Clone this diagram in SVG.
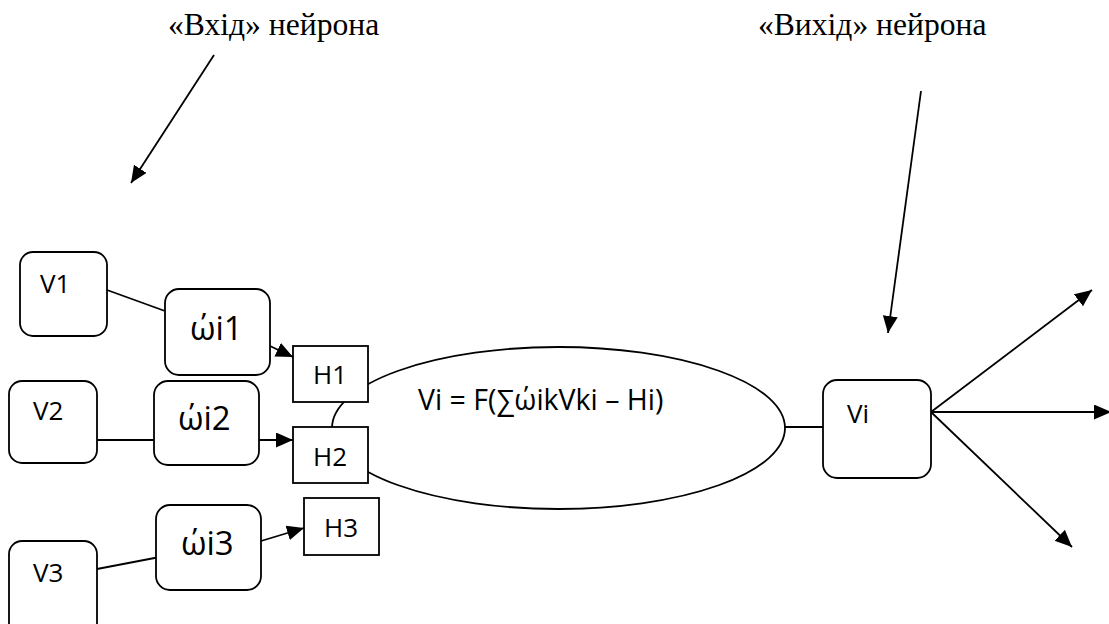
<svg xmlns="http://www.w3.org/2000/svg" width="1109" height="624" viewBox="0 0 1109 624">
<defs>
<marker id="ah" markerUnits="userSpaceOnUse" markerWidth="18" markerHeight="16" refX="17" refY="7.5" orient="auto">
<path d="M0,0 L17,7.5 L0,15 z" fill="#000"/>
</marker>
<style>
.box{fill:#fff;stroke:#000;stroke-width:1.8}
.ln{fill:none;stroke:#000;stroke-width:1.8}
.ar{fill:none;stroke:#000;stroke-width:1.8;marker-end:url(#ah)}
.s{font-family:"Open Sans","DejaVu Sans",sans-serif;fill:#000}
.t{font-family:"Liberation Serif","Times New Roman",serif;font-size:31.6px;fill:#000}
.v{font-size:26px}
.w{font-size:33px}
.f{font-size:28.5px}
</style>
</defs>
<rect width="1109" height="624" fill="#fff"/>

<g id="labels">
<text class="t" x="168" y="35">«Вхід» нейрона</text>
<text class="t" x="758" y="35">«Вихід» нейрона</text>
</g>

<g id="soma">
<ellipse class="box" cx="558.5" cy="428" rx="226.5" ry="81"/>
<text class="s f" x="418" y="410">Vi = F(∑ώikVki – Hi)</text>
</g>

<g id="connectors">
<line class="ar" x1="214" y1="55" x2="131" y2="183"/>
<line class="ar" x1="921" y1="91" x2="888" y2="333"/>
<line class="ln" x1="107" y1="290" x2="165" y2="311"/>
<line class="ar" x1="270" y1="346" x2="293" y2="357"/>
<line class="ln" x1="97" y1="440" x2="154" y2="440"/>
<line class="ar" x1="259" y1="440" x2="293" y2="440"/>
<line class="ln" x1="97" y1="569" x2="165" y2="556"/>
<line class="ar" x1="261" y1="541" x2="304" y2="528"/>
<line class="ln" x1="785" y1="427" x2="823" y2="427"/>
<line class="ar" x1="931" y1="412" x2="1092" y2="290"/>
<line class="ar" x1="931" y1="412" x2="1111" y2="412"/>
<line class="ar" x1="931" y1="412" x2="1072" y2="547"/>
</g>

<g id="V1"><rect class="box" x="20" y="252" width="87" height="84" rx="13"/><text class="s v" x="40" y="293">V1</text></g>
<g id="V2"><rect class="box" x="9" y="381" width="88" height="82" rx="13"/><text class="s v" x="33" y="420">V2</text></g>
<g id="V3"><rect class="box" x="9" y="541" width="88" height="95" rx="13"/><text class="s v" x="33" y="582">V3</text></g>
<g id="W1"><rect class="box" x="165" y="289" width="105" height="86" rx="14"/><text class="s w" x="190" y="340">ώi1</text></g>
<g id="W2"><rect class="box" x="154" y="381" width="105" height="84" rx="14"/><text class="s w" x="178" y="430">ώi2</text></g>
<g id="W3"><rect class="box" x="156" y="505" width="105" height="85" rx="14"/><text class="s w" x="181" y="555">ώi3</text></g>
<g id="H1"><rect class="box" x="293" y="346" width="75" height="56"/><text class="s v" x="313" y="384">H1</text></g>
<g id="H2"><rect class="box" x="293" y="427" width="75" height="56"/><text class="s v" x="313" y="466">H2</text></g>
<g id="H3"><rect class="box" x="304" y="498" width="75" height="57"/><text class="s v" x="324" y="537">H3</text></g>
<g id="Vi"><rect class="box" x="823" y="380" width="108" height="98" rx="14"/><text class="s v" x="847" y="423">Vi</text></g>
</svg>
